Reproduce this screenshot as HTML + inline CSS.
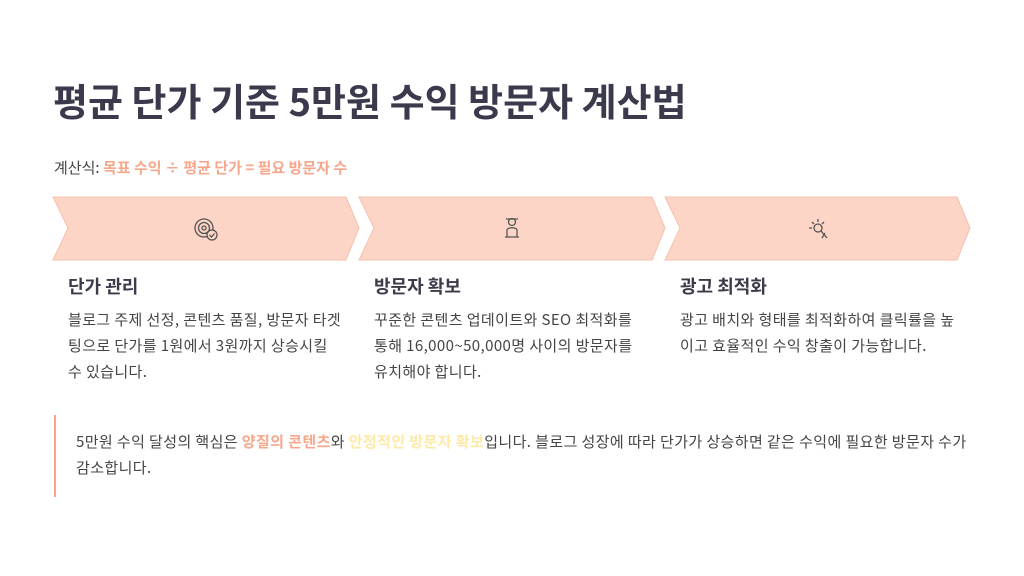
<!DOCTYPE html>
<html><head><meta charset="utf-8"><style>
body{margin:0;width:1024px;height:576px;background:#fff;font-family:"Noto Sans CJK KR","Liberation Sans",sans-serif;color:#3b3b4a;position:relative;overflow:hidden}
.a{position:absolute;white-space:nowrap}
.t{left:53px;top:73px;font-size:38px;font-weight:bold;color:#3a3a4c;line-height:54px}
.s{left:54px;top:157px;font-size:15px;color:#444;line-height:22px}
.o{color:#f7a88c;font-weight:bold}
.y{color:#ffe9a6;font-weight:bold}
.h{font-size:18px;font-weight:bold;top:273px;line-height:26px}
.b{font-size:15px;line-height:26px;top:307px;color:#444;white-space:normal;width:274px;letter-spacing:0.4px;word-break:break-all}
.q{left:54px;top:415px;width:920px;height:82px;border-left:2px solid #f7a88c}
.qt{left:76px;top:429px;font-size:15px;line-height:26px;color:#444;white-space:normal;width:900px;letter-spacing:0.4px}
</style></head><body>
<div class="a t">평균 단가 기준 5만원 수익 방문자 계산법</div>
<div class="a s">계산식: <span class="o">목표 수익 ÷ 평균 단가 = 필요 방문자 수</span></div>
<svg class="a" style="left:0;top:0" width="1024" height="576">
<g fill="#fdd5c7" stroke="#f4c0ad" stroke-width="1">
<polygon points="53,197 346,197 359,228 346,260 53,260 68,228"/>
<polygon points="359,197 652,197 665,228 652,260 359,260 374,228"/>
<polygon points="665,197 957,197 970,228 957,260 665,260 680,228"/>
</g>
<g fill="none" stroke="#555" stroke-width="1.3">
<circle cx="204" cy="228" r="9"/><circle cx="204" cy="228" r="5.5"/><circle cx="204" cy="228" r="2"/>
<circle cx="212" cy="235" r="5" fill="#fdd5c7"/><path d="M209.5 235l2 2 3-3.5"/>
<circle cx="512" cy="222" r="3.5"/><path d="M506 219h12M507 237v-7c0-3 10-3 10 0v7M505 237h14"/>
<circle cx="818" cy="228" r="4"/><path d="M818 219v3M809 228h3M812 222l2 2M824 222l-2 2M821 231l6 7M825 233l-3 5"/>
</g>
</svg>
<div class="a h" style="left:68px">단가 관리</div>
<div class="a b" style="left:68px">블로그 주제 선정, 콘텐츠 품질, 방문자 타겟팅으로 단가를 1원에서 3원까지 상승시킬 수 있습니다.</div>
<div class="a h" style="left:374px">방문자 확보</div>
<div class="a b" style="left:374px;word-break:keep-all">꾸준한 콘텐츠 업데이트와 SEO 최적화를 통해 16,000~50,000명 사이의 방문자를 유치해야 합니다.</div>
<div class="a h" style="left:680px">광고 최적화</div>
<div class="a b" style="left:680px;width:280px">광고 배치와 형태를 최적화하여 클릭률을 높이고 효율적인 수익 창출이 가능합니다.</div>
<div class="a q"></div>
<div class="a qt">5만원 수익 달성의 핵심은 <span class="o">양질의 콘텐츠</span>와 <span class="y">안정적인 방문자 확보</span>입니다. 블로그 성장에 따라 단가가 상승하면 같은 수익에 필요한 방문자 수가 감소합니다.</div>
</body></html>
